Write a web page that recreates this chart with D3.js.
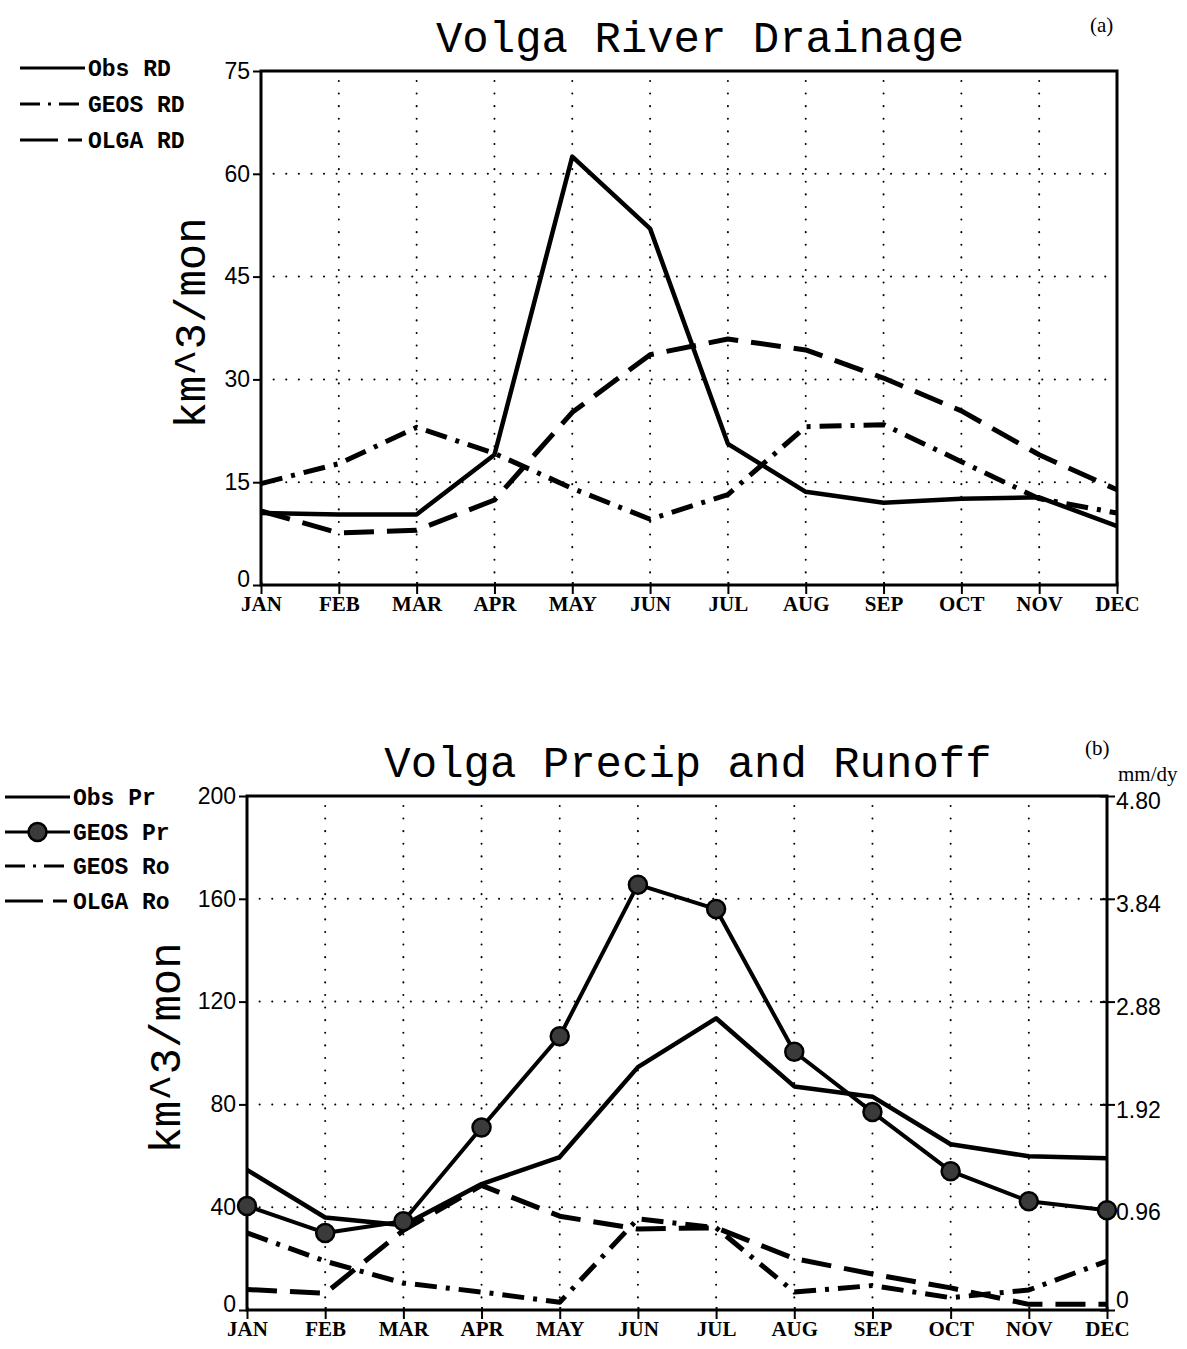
<!DOCTYPE html>
<html>
<head>
<meta charset="utf-8">
<script src="https://cdn.jsdelivr.net/npm/d3@7"></script>
<style>
  body { margin: 0; background: #fff; }
  svg { display: block; }
</style>
</head>
<body>
<div id="chart"></div>
<script>
// ==========================================
// Volga River Drainage / Volga Precip and Runoff
// ==========================================

// 1. DATA (km^3/mon)
const months = ["JAN", "FEB", "MAR", "APR", "MAY", "JUN", "JUL", "AUG", "SEP", "OCT", "NOV", "DEC"];

// panel (a)
const obsRD  = [10.5, 10.3, 10.3, 19.0, 62.5, 52.0, 20.6, 13.6, 12.0, 12.6, 12.8, 8.6];
const geosRD = [14.8, 17.7, 23.0, 19.2, 14.1, 9.6, 13.2, 23.1, 23.4, 18.0, 12.6, 10.5];
const olgaRD = [10.8, 7.6, 8.0, 12.4, 25.2, 33.6, 35.9, 34.3, 30.2, 25.4, 19.0, 13.9];
const ticksA = [0, 15, 30, 45, 60, 75];

// panel (b)
const obsPr  = [54.5, 36.0, 33.0, 49.0, 59.5, 94.5, 113.5, 87.0, 83.0, 64.5, 59.8, 59.0];
const geosPr = [40.5, 30.0, 34.5, 71.0, 106.5, 165.5, 156.0, 100.5, 77.0, 54.0, 42.3, 38.8];
const geosRo = [30.0, 19.0, 10.5, 7.0, 3.0, 35.5, 32.0, 7.0, 9.5, 4.8, 7.8, 19.0];
const olgaRo = [8.0, 6.5, 31.0, 48.5, 36.5, 31.5, 32.0, 20.0, 14.0, 8.6, 2.2, 2.2];
const ticksB = [0, 40, 80, 120, 160, 200];
const ticksMm = ["0", "0.96", "1.92", "2.88", "3.84", "4.80"];

// 2. SETUP
const W = 1187, H = 1349;
const svg = d3.select("#chart").append("svg")
    .attr("width", W)
    .attr("height", H);

const monoFont = "'Liberation Mono', 'DejaVu Sans Mono', monospace";
const serifFont = "'Liberation Serif', 'DejaVu Serif', serif";
const sansFont = "'Liberation Sans', Arial, sans-serif";

const styles = {
    solid:   { dash: null,            width: 4.5 },
    dashdot: { dash: "22,9,4,9",      width: 5 },
    dashed:  { dash: "30,13",         width: 5 }
};

// draws one panel: frame, dotted grid, ticks, labels
function panel(opt) {
    const x = d3.scalePoint().domain(months).range([opt.left, opt.right]);
    const y = d3.scaleLinear().domain([0, opt.ymax]).range([opt.bottom, opt.top]);
    const g = svg.append("g");

    // dotted grid
    g.append("g").selectAll("line.v")
        .data(months.slice(1, -1))
        .join("line")
        .attr("x1", d => x(d)).attr("x2", d => x(d))
        .attr("y1", opt.bottom).attr("y2", opt.top)
        .attr("stroke", "#000").attr("stroke-width", 2)
        .attr("stroke-linecap", "round")
        .attr("stroke-dasharray", "0.1,12.5");
    g.append("g").selectAll("line.h")
        .data(opt.ticks.slice(1, -1))
        .join("line")
        .attr("x1", opt.left).attr("x2", opt.right)
        .attr("y1", d => y(d)).attr("y2", d => y(d))
        .attr("stroke", "#000").attr("stroke-width", 2)
        .attr("stroke-linecap", "round")
        .attr("stroke-dasharray", "0.1,12.5");

    // left axis
    const left = g.append("g")
        .attr("transform", `translate(${opt.left},0)`)
        .call(d3.axisLeft(y).tickValues(opt.ticks).tickSize(8).tickPadding(3));
    left.select(".domain").remove();
    left.selectAll("line").attr("stroke-width", 2);
    left.selectAll("text")
        .style("font-family", sansFont).style("font-size", "23px").attr("fill", "#000");
    left.selectAll(".tick").filter(d => d === 0).select("text").attr("dy", "0.05em");

    // bottom axis
    const bot = g.append("g")
        .attr("transform", `translate(0,${opt.bottom})`)
        .call(d3.axisBottom(x).tickSize(9).tickPadding(-2));
    bot.select(".domain").remove();
    bot.selectAll("line").attr("stroke-width", 2).attr("y1", -3);
    bot.selectAll("text")
        .style("font-family", serifFont).style("font-weight", "bold")
        .style("font-size", "21px").attr("fill", "#000")
        .attr("dy", "0.9em");

    // frame
    g.append("rect")
        .attr("x", opt.left).attr("y", opt.top)
        .attr("width", opt.right - opt.left).attr("height", opt.bottom - opt.top)
        .attr("fill", "none").attr("stroke", "#000").attr("stroke-width", 3);

    // title
    g.append("text")
        .attr("x", opt.titleX).attr("y", opt.titleY)
        .attr("text-anchor", "middle")
        .style("font-family", monoFont).style("font-size", "44px")
        .text(opt.title);

    // panel letter
    g.append("text")
        .attr("x", opt.letterX).attr("y", opt.letterY)
        .style("font-family", serifFont).style("font-size", "21px")
        .text(opt.letter);

    // y label
    g.append("text")
        .attr("transform", `translate(${opt.ylabX},${(opt.top + opt.bottom) / 2 - 5}) rotate(-90)`)
        .attr("text-anchor", "middle")
        .style("font-family", monoFont).style("font-size", "44px")
        .text("km^3/mon");

    return { x, y, g };
}

function series(p, values, kind, color) {
    const line = d3.line()
        .x((d, i) => p.x(months[i]))
        .y(d => p.y(d));
    p.g.append("path")
        .datum(values)
        .attr("d", line)
        .attr("fill", "none")
        .attr("stroke", color || "#000")
        .attr("stroke-width", styles[kind].width)
        .attr("stroke-linejoin", "round")
        .attr("stroke-dasharray", styles[kind].dash);
}

function legend(items, x0, x1, textX) {
    const lg = svg.append("g");
    items.forEach(it => {
        lg.append("line")
            .attr("x1", x0).attr("x2", x1)
            .attr("y1", it.y).attr("y2", it.y)
            .attr("stroke", "#000")
            .attr("stroke-width", 3)
            .attr("stroke-dasharray", it.dash);
        if (it.marker) {
            lg.append("circle")
                .attr("cx", (x0 + x1) / 2).attr("cy", it.y).attr("r", 9)
                .attr("fill", "#3a3a3a").attr("stroke", "#000").attr("stroke-width", 2.5);
        }
        lg.append("text")
            .attr("x", textX).attr("y", it.y + 8)
            .style("font-family", monoFont).style("font-weight", "bold")
            .style("font-size", "23px")
            .text(it.label);
    });
}

// 3. PANEL (a)
const pa = panel({
    left: 261, right: 1117, top: 71, bottom: 585, ymax: 75, ticks: ticksA,
    title: "Volga River Drainage", titleX: 700, titleY: 52,
    letter: "(a)", letterX: 1090, letterY: 32, ylabX: 205
});
series(pa, geosRD, "dashdot");
series(pa, olgaRD, "dashed");
series(pa, obsRD, "solid");

legend([
    { y: 68,  label: "Obs RD",  dash: null },
    { y: 104, label: "GEOS RD", dash: "20,8,3,8" },
    { y: 140, label: "OLGA RD", dash: "38,10,14,200" }
], 20, 85, 88);

// 4. PANEL (b)
const pb = panel({
    left: 247, right: 1107, top: 796, bottom: 1310, ymax: 200, ticks: ticksB,
    title: "Volga Precip and Runoff", titleX: 688, titleY: 777,
    letter: "(b)", letterX: 1085, letterY: 755, ylabX: 180
});

// right axis (mm/dy) sharing the same positions
const right = pb.g.append("g")
    .attr("transform", `translate(${1107},0)`)
    .call(d3.axisRight(pb.y).tickValues(ticksB).tickSize(8).tickPadding(1)
        .tickFormat((d, i) => ticksMm[i]));
right.select(".domain").remove();
right.selectAll("line").attr("stroke-width", 2).attr("x1", -7);
right.selectAll("text")
    .style("font-family", sansFont).style("font-size", "23px").attr("fill", "#000")
    .attr("dy", "0.55em");
right.selectAll(".tick").filter(d => d === 0).select("text").attr("dy", "-0.1em");
pb.g.append("text")
    .attr("x", 1118).attr("y", 781)
    .style("font-family", serifFont).style("font-size", "21px")
    .text("mm/dy");

series(pb, geosRo, "dashdot");
series(pb, olgaRo, "dashed");
series(pb, obsPr, "solid");
pb.g.append("path")
    .datum(geosPr)
    .attr("d", d3.line().x((d, i) => pb.x(months[i])).y(d => pb.y(d)))
    .attr("fill", "none").attr("stroke", "#000").attr("stroke-width", 4)
    .attr("stroke-linejoin", "round");
pb.g.append("g").selectAll("circle")
    .data(geosPr)
    .join("circle")
    .attr("cx", (d, i) => pb.x(months[i]))
    .attr("cy", d => pb.y(d))
    .attr("r", 9)
    .attr("fill", "#3a3a3a")
    .attr("stroke", "#000")
    .attr("stroke-width", 2.5);

legend([
    { y: 797, label: "Obs Pr",  dash: null },
    { y: 832, label: "GEOS Pr", dash: null, marker: true },
    { y: 866, label: "GEOS Ro", dash: "20,8,3,8" },
    { y: 901, label: "OLGA Ro", dash: "38,10,14,200" }
], 5, 70, 73);
</script>
</body>
</html>
